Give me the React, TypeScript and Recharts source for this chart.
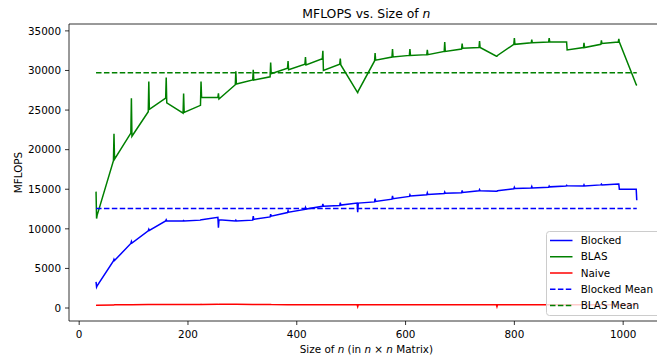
import { LineChart, Line, XAxis, YAxis, Label, ReferenceLine } from "recharts"

// matrix sizes tested (around every multiple of 32)
const sizes = [
  31, 32, 33, 63, 64, 65, 95, 96, 97, 127, 128, 129,
  159, 160, 161, 191, 192, 193, 223, 224, 225, 255, 256, 257,
  287, 288, 289, 319, 320, 321, 351, 352, 353, 383, 384, 385,
  415, 416, 417, 447, 448, 449, 479, 480, 481, 511, 512, 513,
  543, 544, 545, 575, 576, 577, 607, 608, 609, 639, 640, 641,
  671, 672, 673, 703, 704, 705, 735, 736, 737, 767, 768, 769,
  799, 800, 801, 831, 832, 833, 863, 864, 865, 895, 896, 897,
  927, 928, 929, 959, 960, 961, 991, 992, 993, 1023, 1024, 1025,
]

const blockedMflops = [
  3300, 2650, 2800, 5950, 6150, 6000, 8150, 8400, 8200, 9750, 9950, 9800,
  11000, 11150, 11000, 11000, 11050, 11000, 11100, 11150, 11150, 11450, 10150, 11150,
  11000, 11100, 11000, 11100, 11600, 11200, 11500, 11850, 11600, 12050, 12300, 12100,
  12450, 12700, 12500, 12850, 13150, 12850, 12950, 13300, 13000, 13250, 12100, 13250,
  13400, 13800, 13450, 13750, 14150, 13800, 14100, 14300, 14150, 14300, 14550, 14350,
  14450, 14650, 14500, 14550, 14850, 14600, 14800, 14950, 14800, 14750, 14750, 14800,
  15050, 15250, 15100, 15150, 15350, 15150, 15250, 15400, 15300, 15400, 15500, 15450,
  15400, 15550, 15400, 15550, 15650, 15550, 15650, 15650, 15000, 15000, 15000, 13600,
]

const blasMflops = [
  14700, 11300, 11700, 18600, 22000, 18800, 22100, 26500, 21700, 24800, 28600, 25100,
  26500, 29100, 25900, 24600, 27100, 24700, 25600, 28600, 26600, 26600, 27100, 26400,
  28200, 29900, 28300, 28800, 30100, 28800, 29200, 31000, 29600, 30300, 31200, 30100,
  30800, 31700, 30700, 31500, 32500, 30000, 30800, 31500, 30700, 27300, 27200, 27400,
  31200, 32200, 31300, 31700, 32700, 31700, 31900, 32700, 31900, 32000, 32600, 32000,
  32400, 33600, 32400, 32700, 33400, 32800, 32900, 33700, 32900, 31800, 31800, 31900,
  33300, 34100, 33300, 33500, 33900, 33500, 33600, 34100, 33600, 33600, 33600, 32600,
  32900, 33500, 32900, 33300, 33800, 33400, 33600, 34000, 33600, 28400, 28200, 28100,
]

const naiveMflops = [
  360, 350, 360, 390, 390, 400, 410, 420, 410, 430, 430, 430,
  440, 440, 440, 450, 450, 450, 450, 460, 450, 460, 470, 460,
  460, 460, 460, 450, 450, 450, 440, 440, 430, 420, 420, 420,
  420, 420, 420, 420, 420, 420, 420, 420, 420, 420, 180, 420,
  420, 420, 420, 420, 420, 420, 420, 420, 420, 420, 420, 420,
  420, 420, 420, 420, 420, 420, 420, 420, 420, 420, 180, 420,
  420, 420, 420, 420, 420, 420, 420, 420, 420, 420, 420, 420,
  420, 420, 420, 420, 420, 420, 420, 420, 420, 420, 420, 420,
]

const blockedMean = 12570
const blasMean = 29700

const xTicks = [0, 200, 400, 600, 800, 1000]
const yTicks = [0, 5000, 10000, 15000, 20000, 25000, 30000, 35000]
const yDomain = [-1640, 35870]

const data = sizes.map((n, i) => ({
  n,
  blocked: blockedMflops[i],
  blas: blasMflops[i],
  naive: naiveMflops[i],
  blockedMean,
  blasMean,
}))

const font = "DejaVu Sans"
const fs = 10.4
const dash = "5.5 2.4"

const legendItems = [
  { name: "Blocked", color: "#0000ff", dashed: false },
  { name: "BLAS", color: "#008000", dashed: false },
  { name: "Naive", color: "#ff0000", dashed: false },
  { name: "Blocked Mean", color: "#0000ff", dashed: true },
  { name: "BLAS Mean", color: "#008000", dashed: true },
]

function XLabel(props: any) {
  const vb = props.viewBox || { x: 69, y: 321, width: 595 }
  return (
    <text x={vb.x + vb.width / 2} y={353} textAnchor="middle" fontSize={fs} fontFamily={font} fill="#000">
      Size of <tspan fontStyle="italic">n</tspan> (in <tspan fontStyle="italic">n</tspan> × <tspan fontStyle="italic">n</tspan> Matrix)
    </text>
  )
}

// y label plus the chart title (both plain svg text)
function YLabel() {
  return (
    <g>
      <text x={22} y={172.5} transform="rotate(-90 22 172.5)" textAnchor="middle" fontSize={fs} fontFamily={font} fill="#000">
        MFLOPS
      </text>
      <text x={366.4} y={18.3} textAnchor="middle" fontSize={12.4} fontFamily={font} fill="#000">
        MFLOPS vs. Size of <tspan fontStyle="italic">n</tspan>
      </text>
    </g>
  )
}

function LegendBox() {
  return (
    <svg width={124} height={85} style={{ position: "absolute", left: 546, top: 230.5, overflow: "visible" }}>
      <rect x={0.5} y={0.5} width={122} height={84} rx={3} fill="#fff" fillOpacity={0.8} stroke="#cccccc" strokeWidth={1} />
      {legendItems.map((item, i) => {
        const cy = 9.5 + i * 16.25
        return (
          <g key={item.name}>
            <line x1={4} y1={cy} x2={26.5} y2={cy} stroke={item.color} strokeWidth={1.5} strokeDasharray={item.dashed ? dash : undefined} />
            <text x={34.7} y={cy + 3.7} fontSize={fs} fontFamily={font} fill="#000">{item.name}</text>
          </g>
        )
      })}
    </svg>
  )
}

export default function App() {
  return (
    <div style={{ position: "fixed", left: 0, top: 0, width: 657, height: 360, overflow: "hidden", background: "#fff" }}>
      <LineChart width={700} height={360} data={data} margin={{ top: 24, right: 36.2, left: 0, bottom: 0 }}>
        <XAxis
          dataKey="n"
          type="number"
          domain={[-18.7, 1074.7]}
          allowDataOverflow
          ticks={xTicks}
          height={39}
          tickSize={4}
          tickMargin={6}
          tick={{ fontSize: fs, fontFamily: font, fill: "#000" }}
          tickLine={{ stroke: "#000", strokeWidth: 0.8 }}
          axisLine={{ stroke: "#000", strokeWidth: 0.8 }}
        >
          <Label content={XLabel} />
        </XAxis>
        <YAxis
          type="number"
          domain={yDomain}
          allowDataOverflow
          ticks={yTicks}
          width={69}
          tickSize={4}
          tickMargin={4}
          tick={{ fontSize: fs, fontFamily: font, fill: "#000" }}
          tickLine={{ stroke: "#000", strokeWidth: 0.8 }}
          axisLine={{ stroke: "#000", strokeWidth: 0.8 }}
        >
          <Label content={YLabel} />
        </YAxis>
        <ReferenceLine y={yDomain[1]} stroke="#000" strokeWidth={0.8} />
        <Line type="linear" dataKey="blocked" stroke="#0000ff" strokeWidth={1.5} dot={false} isAnimationActive={false} />
        <Line type="linear" dataKey="blas" stroke="#008000" strokeWidth={1.5} dot={false} isAnimationActive={false} />
        <Line type="linear" dataKey="naive" stroke="#ff0000" strokeWidth={1.5} dot={false} isAnimationActive={false} />
        <Line type="linear" dataKey="blockedMean" stroke="#0000ff" strokeWidth={1.5} strokeDasharray={dash} dot={false} isAnimationActive={false} />
        <Line type="linear" dataKey="blasMean" stroke="#008000" strokeWidth={1.5} strokeDasharray={dash} dot={false} isAnimationActive={false} />
      </LineChart>
      <LegendBox />
    </div>
  )
}
